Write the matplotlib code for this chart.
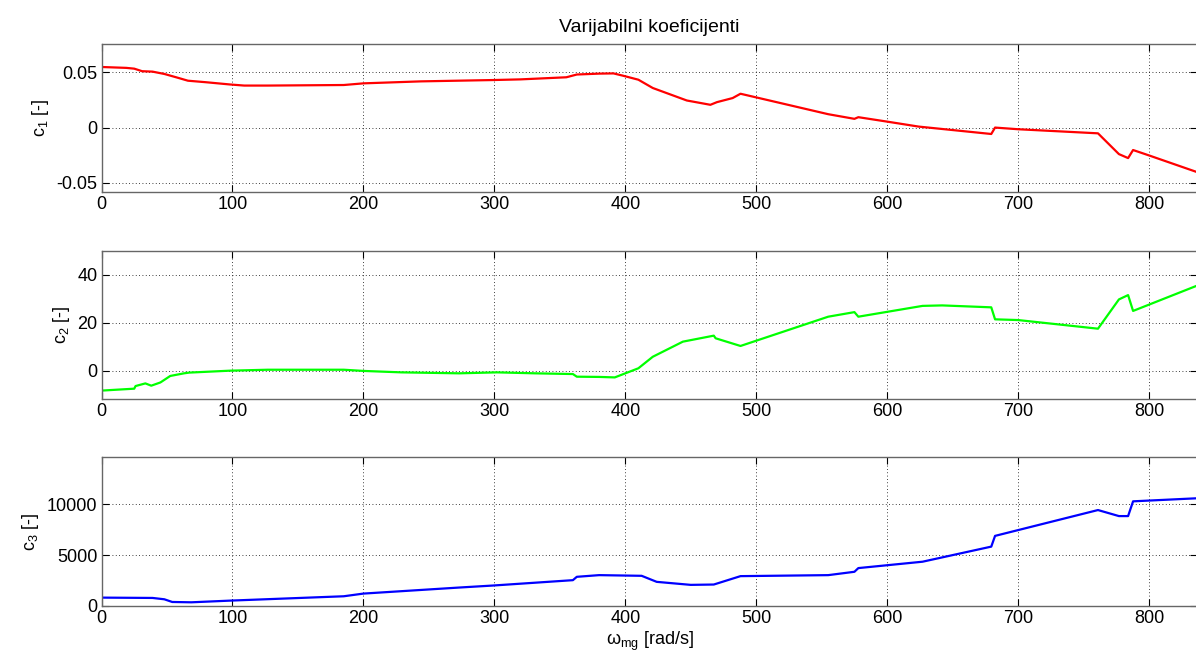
#!/usr/bin/env python3

import matplotlib
matplotlib.use("Agg")
import matplotlib.pyplot as plt

plt.rcParams["font.family"] = ["Liberation Sans", "DejaVu Sans"]
plt.rcParams["axes.unicode_minus"] = False
plt.rcParams["mathtext.fontset"] = "custom"
plt.rcParams["mathtext.rm"] = "Liberation Sans"
plt.rcParams["mathtext.it"] = "Liberation Sans"

# c1 (crveno)
c1_x = [0, 19, 25, 31, 39, 48, 57, 66, 80, 98, 109, 127, 185, 200, 244, 299, 320,
        355, 363, 380, 391, 398, 410, 421, 447, 465, 470, 482, 488, 500, 555, 575,
        578, 601, 624, 679.5, 682.4, 700, 761, 777, 784, 787.8, 800, 836]
c1_y = [0.0548, 0.054, 0.0533, 0.051, 0.0506, 0.0485, 0.0455, 0.0424, 0.041, 0.039,
        0.038, 0.038, 0.0385, 0.040, 0.0418, 0.043, 0.0436, 0.0455, 0.048, 0.0488,
        0.049, 0.047, 0.0433, 0.0358, 0.0245, 0.0206, 0.023, 0.0267, 0.0306, 0.0273,
        0.0121, 0.0079, 0.0094, 0.0052, 0.0009, -0.0058, 0.0, -0.0015, -0.0052,
        -0.024, -0.0276, -0.0203, -0.0252, -0.040]

# c2 (zeleno)
c2_x = [0, 25, 26, 33.5, 38, 45, 52.5, 63, 67, 98, 127, 185, 200, 229, 273, 302,
        331, 360, 363, 380, 392, 410, 421, 444, 467.6, 469, 488, 555, 575, 578, 627,
        642, 679.5, 682.4, 700, 761, 777, 784, 787.8, 836]
c2_y = [-8.3, -7.5, -6.4, -5.3, -6.25, -4.9, -2.2, -1.1, -0.8, 0.0, 0.4, 0.4, -0.1,
        -0.7, -1.1, -0.7, -1.1, -1.4, -2.5, -2.6, -2.8, 1.0, 5.8, 12.1, 14.6, 13.5,
        10.3, 22.5, 24.4, 22.5, 27.0, 27.2, 26.4, 21.4, 21.1, 17.5, 29.7, 31.5, 24.9,
        35.3]

# c3 (plavo)
c3_x = [0, 39, 48, 54, 68.6, 98, 185, 200, 273, 299, 360, 363, 380, 412.5, 424, 450,
        467.6, 488, 555, 575, 578, 627, 679.5, 682.4, 761, 777, 784, 787.8, 836]
c3_y = [822, 790, 658, 395, 362, 526, 954, 1217, 1809, 2007, 2533, 2862, 3026, 2960,
        2368, 2072, 2105, 2928, 3026, 3355, 3717, 4342, 5822, 6875, 9408, 8816, 8816,
        10263, 10559]

x_ticks = [0, 100, 200, 300, 400, 500, 600, 700, 800]


def style_axes(ax, yticks, ylim):
        ax.set_xlim(0, 837)
        ax.set_ylim(*ylim)
        ax.set_xticks(x_ticks)
        ax.set_yticks(yticks)
        ax.grid(True, color="black", linestyle=(0, (1, 3)), linewidth=0.6)
        ax.tick_params(direction="in", length=5, width=0.8, top=True, right=True,
                       labelsize=13, colors="black", pad=3)
        for s in ax.spines.values():
                s.set_color("0.4")
                s.set_linewidth(1.0)


fig = plt.figure(figsize=(11.96, 6.58), dpi=100)
left = 101.5 / 1196
width = (1197.5 - 101.5) / 1196

ax1 = fig.add_axes([left, 1 - 191.7 / 658, width, (191.7 - 44) / 658])
ax2 = fig.add_axes([left, 1 - 399 / 658, width, (399 - 250.7) / 658])
ax3 = fig.add_axes([left, 1 - 606 / 658, width, (606 - 457.3) / 658])

ax1.plot(c1_x, c1_y, color="#ff0000", linewidth=1.6)
style_axes(ax1, [-0.05, 0, 0.05], (-0.058, 0.0756))
ax1.set_yticklabels(["-0.05", "0", "0.05"])
ax1.set_ylabel(r"c$_1$ [-]", fontsize=13)
ax1.set_title("Varijabilni koeficijenti", fontsize=14, pad=9)

ax2.plot(c2_x, c2_y, color="#00ff00", linewidth=1.6)
style_axes(ax2, [0, 20, 40], (-11.8, 50))
ax2.set_ylabel(r"c$_2$ [-]", fontsize=13)

ax3.plot(c3_x, c3_y, color="#0000ff", linewidth=1.6)
style_axes(ax3, [0, 5000, 10000], (0, 14580))
ax3.set_ylabel(r"c$_3$ [-]", fontsize=13)
ax3.set_xlabel(r"$\omega_{mg}$ [rad/s]", fontsize=13, labelpad=2)

fig.savefig("out.png", dpi=100)
